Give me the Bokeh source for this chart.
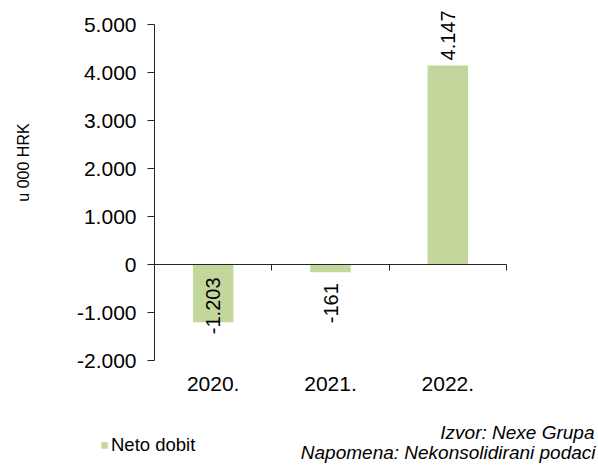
import numpy as np
from bokeh.plotting import figure
from bokeh.models import (Range1d, LinearAxis, FixedTicker, ColumnDataSource,
                          Legend, LegendItem, Label)
from bokeh.core.properties import value
from bokeh.embed import file_html
from bokeh.resources import INLINE

# ---- data ----
categories = ["2020.", "2021.", "2022."]
neto_dobit = [-1203, -161, 4147]
y_ticks = [-2000, -1000, 0, 1000, 2000, 3000, 4000, 5000]
y_tick_labels = ["-2.000", "-1.000", "0", "1.000", "2.000", "3.000", "4.000", "5.000"]
series_name = "Neto dobit"
y_title = "u 000 HRK"
source_note = "Izvor: Nexe Grupa"
remark_note = "Napomena: Nekonsolidirani podaci"

# ---- layout / style ----
W, H = 598, 470
PLOT_L, PLOT_R, PLOT_T, PLOT_B = 154, 506, 24, 360   # plot area in pixels
FONT = "Liberation Sans"
BAR = "#C3D69B"
LINE = "#262626"
Y_MIN, Y_MAX = y_ticks[0], y_ticks[-1]
LABEL_SPAN = 1500  # approx. length of a rotated data label in data units

n = len(categories)
x_per_px = n / (PLOT_R - PLOT_L)
y_per_px = (Y_MAX - Y_MIN) / (PLOT_B - PLOT_T)
x_lo = -0.5 - PLOT_L * x_per_px
x_hi = n - 0.5 + (W - PLOT_R) * x_per_px
y_lo = Y_MIN - (H - PLOT_B) * y_per_px
y_hi = Y_MAX + PLOT_T * y_per_px


def fmt(v):
    return f"{v:,}".replace(",", ".")


x_idx = list(range(n))
anchors, aligns, offsets = [], [], []
for v in neto_dobit:
    if v >= 0:
        anchors.append(v); aligns.append("left"); offsets.append(-5)
    elif v - LABEL_SPAN >= Y_MIN:
        anchors.append(v); aligns.append("right"); offsets.append(11)
    else:
        anchors.append(0); aligns.append("right"); offsets.append(13)

src = ColumnDataSource(dict(x=x_idx, v=neto_dobit, ly=anchors,
                            lbl=[fmt(v) for v in neto_dobit],
                            align=aligns, yoff=offsets))

p = figure(width=W, height=H,
           x_range=Range1d(x_lo, x_hi), y_range=Range1d(y_lo, y_hi),
           x_axis_type=None, y_axis_type=None,
           toolbar_location=None, output_backend="svg",
           min_border_left=0, min_border_right=0,
           min_border_top=0, min_border_bottom=0)
p.outline_line_color = None
p.background_fill_color = "white"
p.border_fill_color = "white"

bars = p.vbar(x="x", top="v", width=0.345, source=src,
              fill_color=BAR, line_color=None)

p.text(x="x", y="ly", text="lbl", angle=np.pi / 2, text_align="align",
       text_baseline="middle", y_offset="yoff", source=src,
       text_font=value(FONT), text_font_size="20px", text_color="black")

# y axis (fixed at the left edge of the plot area)
yaxis = LinearAxis(fixed_location=-0.5, bounds=(Y_MIN, Y_MAX),
                   ticker=FixedTicker(ticks=y_ticks),
                   major_label_overrides=dict(zip(y_ticks, y_tick_labels)),
                   major_label_text_font=FONT, major_label_text_font_size="21px",
                   major_label_text_color="black", major_label_standoff=11,
                   major_tick_in=0, major_tick_out=7,
                   axis_line_color=LINE, major_tick_line_color=LINE,
                   minor_tick_line_color=None)
p.add_layout(yaxis, "left")

# y axis title
p.add_layout(Label(x=23, y=H - 162, x_units="screen", y_units="screen",
                   text=y_title, angle=np.pi / 2, text_align="center",
                   text_baseline="middle", text_font=FONT,
                   text_font_size="16px", text_color="black"))

# category labels (at the bottom of the plot area)
xaxis = LinearAxis(fixed_location=Y_MIN, ticker=FixedTicker(ticks=x_idx),
                   major_label_overrides=dict(zip(x_idx, categories)),
                   axis_line_color=None, major_tick_line_color=None,
                   minor_tick_line_color=None, major_tick_in=0, major_tick_out=0,
                   major_label_standoff=16,
                   major_label_text_font=FONT, major_label_text_font_size="21px",
                   major_label_text_color="black")
p.add_layout(xaxis, "below")

# zero line with category boundary ticks
bounds = [i - 0.5 for i in range(n + 1)]
zaxis = LinearAxis(fixed_location=0, bounds=(bounds[0], bounds[-1]),
                   ticker=FixedTicker(ticks=bounds),
                   major_label_overrides={b: "" for b in bounds},
                   major_tick_in=0, major_tick_out=6,
                   axis_line_color=LINE, major_tick_line_color=LINE,
                   minor_tick_line_color=None)
p.add_layout(zaxis, "below")

legend = Legend(items=[LegendItem(label=series_name, renderers=[bars])],
                location=(100, 14), orientation="horizontal",
                glyph_width=8, glyph_height=8, label_standoff=3,
                label_text_font=FONT, label_text_font_size="18.5px",
                label_text_color="black", padding=0, margin=0, spacing=0,
                border_line_color=None, background_fill_alpha=0)
p.add_layout(legend)

for txt, xx, yy in [(source_note, 594, H - 432), (remark_note, 595, H - 452)]:
    p.add_layout(Label(x=xx, y=yy, x_units="screen", y_units="screen",
                       text=txt, text_align="right", text_baseline="middle",
                       text_font=FONT, text_font_style="italic",
                       text_font_size="19px", text_color="black"))

open("out.html", "w").write(file_html(p, INLINE))
